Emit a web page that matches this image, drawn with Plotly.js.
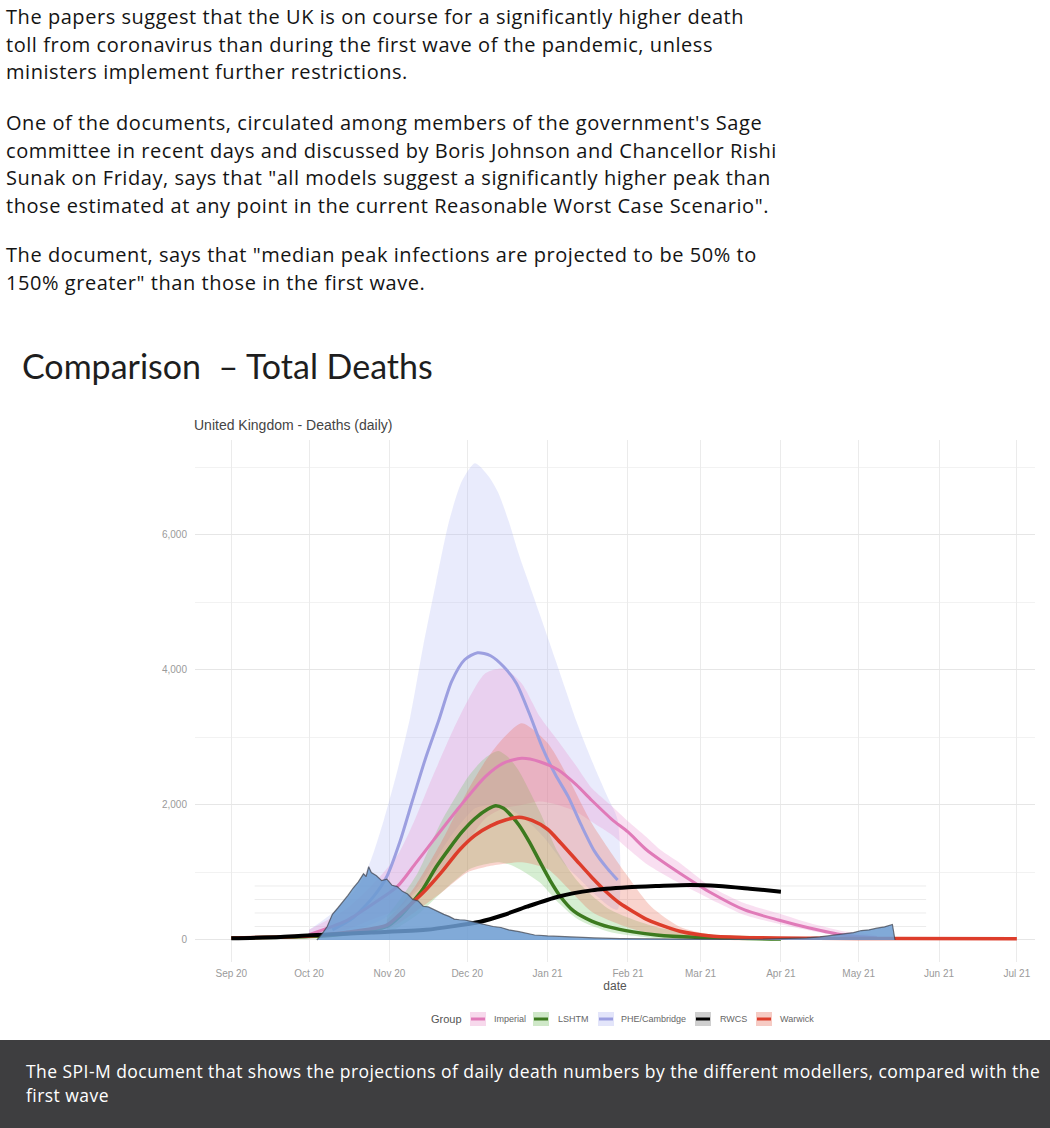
<!DOCTYPE html>
<html>
<head>
<meta charset="utf-8">
<script src="https://cdn.plot.ly/plotly-3.0.1.min.js"></script>
<style>
  html, body { margin:0; padding:0; background:#fff; }
  body { width:1050px; height:1128px; position:relative; overflow:hidden; }
  #text { position:absolute; left:6px; top:3px; font-family:'Open Sans', sans-serif; font-size:20px; line-height:27.5px; color:#141414; white-space:nowrap; letter-spacing:0.55px; }
  #text p { margin:0; }
  #chart { position:absolute; left:0; top:330px; width:1050px; height:710px; }
  #caption { position:absolute; left:0; top:1040px; width:1050px; height:88px; background:#3e3e40; color:#ffffff;
             font-family:'Open Sans', sans-serif; font-size:17.5px; line-height:24px; letter-spacing:0.45px; box-sizing:border-box; padding:19px 0 0 26px; white-space:nowrap; }
</style>
</head>
<body>
<div id="text">
  <p>The papers suggest that the UK is on course for a significantly higher death<br>toll from coronavirus than during the first wave of the pandemic, unless<br>ministers implement further restrictions.</p>
  <p style="margin-top:23.5px">One of the documents, circulated among members of the government's Sage<br>committee in recent days and discussed by Boris Johnson and Chancellor Rishi<br>Sunak on Friday, says that "all models suggest a significantly higher peak than<br>those estimated at any point in the current Reasonable Worst Case Scenario".</p>
  <p style="margin-top:22px">The document, says that "median peak infections are projected to be 50% to<br>150% greater" than those in the first wave.</p>
</div>
<div id="chart"></div>
<div id="caption">The SPI-M document that shows the projections of daily death numbers by the different modellers, compared with the<br>first wave</div>
<script>
// ---------- axis ticks ----------
const monthTicks = ['2020-09-01','2020-10-01','2020-11-01','2020-12-01','2021-01-01','2021-02-01','2021-03-01','2021-04-01','2021-05-01','2021-06-01','2021-07-01'];
const monthLabels = ['Sep 20','Oct 20','Nov 20','Dec 20','Jan 21','Feb 21','Mar 21','Apr 21','May 21','Jun 21','Jul 21'];

// ---------- PHE/Cambridge ----------
const pheDates = ['2020-10-10','2020-10-18','2020-10-26','2020-10-31','2020-11-05','2020-11-10','2020-11-15','2020-11-20','2020-11-25','2020-11-30','2020-12-05','2020-12-10','2020-12-15','2020-12-20','2020-12-25','2020-12-30','2021-01-04','2021-01-09','2021-01-14','2021-01-19','2021-01-24','2021-01-28'];
const pheMedian = [150,330,650,940,1450,2080,2700,3250,3830,4150,4255,4210,4050,3800,3350,2850,2450,2120,1700,1320,1060,888];
const pheBandDates = ['2020-10-01','2020-10-10','2020-10-20','2020-10-25','2020-10-30','2020-11-04','2020-11-09','2020-11-14','2020-11-19','2020-11-24','2020-11-29','2020-12-04','2020-12-09','2020-12-13','2020-12-17','2020-12-21','2020-12-26','2020-12-31','2021-01-04','2021-01-08','2021-01-12','2021-01-16','2021-01-20','2021-01-24','2021-01-28'];
const pheUpper = [150,400,800,1200,1800,2500,3300,4350,5300,6200,6800,7060,6880,6620,6200,5700,5150,4600,4150,3700,3250,2850,2480,2130,1780];
const pheLower = [30,80,160,230,320,450,650,900,1200,1500,1750,1950,2000,2000,1950,1850,1700,1500,1300,1100,950,800,650,520,450];

// ---------- Imperial ----------
const impDates = ['2020-10-01','2020-10-15','2020-10-25','2020-11-04','2020-11-11','2020-11-18','2020-11-28','2020-12-08','2020-12-15','2020-12-22','2020-12-29','2021-01-05','2021-01-12','2021-01-18','2021-01-26','2021-02-01','2021-02-08','2021-02-14','2021-02-21','2021-03-05','2021-03-18','2021-03-31','2021-04-12','2021-04-25','2021-05-08'];
const impMedian = [80,280,520,790,1130,1480,1970,2420,2620,2690,2640,2520,2300,2070,1780,1600,1340,1170,990,700,445,296,178,74,30];
const impUpper = [150,450,800,1250,1800,2450,3307,3950,4020,3800,3310,2950,2580,2250,1974,1760,1530,1320,1140,789,543,395,250,130,60];
const impLower = [40,150,300,450,700,950,1300,1800,1950,2000,2050,2000,1900,1750,1550,1350,1130,990,840,600,370,240,140,50,15];

// ---------- LSHTM ----------
const lshDates = ['2020-09-01','2020-10-01','2020-10-15','2020-10-31','2020-11-05','2020-11-09','2020-11-14','2020-11-19','2020-11-24','2020-11-29','2020-12-04','2020-12-09','2020-12-12','2020-12-15','2020-12-18','2020-12-21','2020-12-25','2020-12-29','2021-01-02','2021-01-06','2021-01-11','2021-01-18','2021-01-25','2021-02-03','2021-02-12','2021-02-27','2021-04-01'];
const lshMedian = [30,50,90,200,350,520,760,1080,1350,1600,1800,1940,1989,1950,1840,1700,1450,1160,880,640,430,280,190,120,74,40,15];
const lshBandDates = ['2020-10-31','2020-11-05','2020-11-12','2020-11-21','2020-12-02','2020-12-08','2020-12-13','2020-12-17','2020-12-21','2020-12-29','2021-01-05','2021-01-13','2021-01-25','2021-02-13','2021-03-05','2021-04-01'];
const lshUpper = [350,600,1000,1750,2450,2700,2800,2700,2500,1900,1300,850,450,180,80,30];
const lshLower = [100,200,380,700,1050,1120,1150,1120,1050,850,560,300,120,25,10,0];

// ---------- Warwick ----------
const warDates = ['2020-09-01','2020-10-01','2020-10-15','2020-10-31','2020-11-05','2020-11-11','2020-11-15','2020-11-21','2020-11-28','2020-12-04','2020-12-10','2020-12-16','2020-12-21','2020-12-26','2021-01-01','2021-01-06','2021-01-12','2021-01-18','2021-01-24','2021-01-29','2021-02-03','2021-02-08','2021-02-13','2021-02-21','2021-03-05','2021-03-20','2021-04-15','2021-05-15','2021-07-01'];
const warMedian = [30,60,110,220,380,592,740,1000,1333,1550,1690,1780,1817,1770,1640,1440,1185,930,700,540,420,310,230,130,60,35,25,22,20];
const warBandDates = ['2020-10-31','2020-11-05','2020-11-11','2020-11-21','2020-12-01','2020-12-08','2020-12-14','2020-12-22','2021-01-01','2021-01-08','2021-01-18','2021-01-31','2021-02-10','2021-02-21','2021-03-05','2021-03-20'];
const warUpper = [300,500,800,1450,2200,2650,2950,3209,2918,2473,1733,992,493,197,80,40];
const warLower = [150,260,420,700,1000,1080,1120,1150,1050,800,420,200,90,40,15,5];

// ---------- RWCS ----------
const rwcsDates = ['2020-09-01','2020-09-20','2020-10-04','2020-10-25','2020-11-15','2020-12-06','2020-12-15','2020-12-24','2021-01-05','2021-01-18','2021-02-01','2021-02-13','2021-02-25','2021-03-08','2021-03-20','2021-04-01'];
const rwcsValues = [25,45,74,110,150,271,370,493,641,735,780,800,815,800,760,716];

// ---------- first wave (overlaid daily deaths) ----------
const waveDates = ['2020-10-04','2020-10-06','2020-10-08','2020-10-10','2020-10-12','2020-10-14','2020-10-16','2020-10-18','2020-10-20','2020-10-22','2020-10-23','2020-10-24','2020-10-25','2020-10-27','2020-10-29','2020-10-31','2020-11-02','2020-11-04','2020-11-06','2020-11-08','2020-11-10','2020-11-12','2020-11-14','2020-11-16','2020-11-18','2020-11-20','2020-11-22','2020-11-24','2020-11-26','2020-11-28','2020-11-30','2020-12-02','2020-12-05','2020-12-08','2020-12-11','2020-12-14','2020-12-17','2020-12-21','2020-12-24','2020-12-27','2021-01-01','2021-01-06','2021-01-12','2021-01-19','2021-01-29','2021-02-08','2021-02-23','2021-03-10','2021-03-25','2021-04-04','2021-04-11','2021-04-16','2021-04-21','2021-04-25','2021-04-29','2021-05-02','2021-05-05','2021-05-08','2021-05-11','2021-05-14','2021-05-15'];
const waveDeaths = [0,90,200,380,470,560,660,770,860,980,940,1086,1000,950,880,900,810,790,720,680,600,580,500,490,450,420,380,350,310,300,296,280,250,222,200,185,150,123,95,74,60,50,40,30,20,15,10,10,12,18,30,45,70,95,110,140,150,175,195,230,0];

// faint gridlines of the overlaid first-wave panel
const overlayGrid = [200,400,600,800,1000];

// ---------- legend ----------
const groups = ['Imperial','LSHTM','PHE/Cambridge','RWCS','Warwick'];
const lineColors = {'Imperial':'#e07ab8','LSHTM':'#3c7a1f','PHE/Cambridge':'#9c9fe0','RWCS':'#000000','Warwick':'#dd3d2b'};
const bandColors = {'Imperial':'rgba(235,140,205,0.28)','LSHTM':'rgba(120,200,105,0.30)','PHE/Cambridge':'rgba(175,182,245,0.28)','Warwick':'rgba(235,100,80,0.28)'};
const swatchFills = {'Imperial':'#f7d9ec','LSHTM':'#cfe8c8','PHE/Cambridge':'#e3e5fa','RWCS':'#cfcfcf','Warwick':'#f6cbc4'};
const legendSwatchLeft = [470, 533, 598, 695, 756];   // page px (layout)
const legendTextLeft = [492, 556, 619, 718, 778];     // page px (layout)

function band(dates, up, lo, g){
  return {x: dates.concat(dates.slice().reverse()), y: up.concat(lo.slice().reverse()),
          type:'scatter', mode:'lines', fill:'toself', fillcolor: bandColors[g],
          line:{width:0, shape:'spline', smoothing:0.7}, showlegend:false, hoverinfo:'skip'};
}
function med(dates, vals, g, w){
  return {x: dates, y: vals, type:'scatter', mode:'lines', name: g,
          line:{color: lineColors[g], width: w, shape:'spline', smoothing:0.7}};
}

const traces = [
  band(pheBandDates, pheUpper, pheLower, 'PHE/Cambridge'),
  band(impDates, impUpper, impLower, 'Imperial'),
  band(lshBandDates, lshUpper, lshLower, 'LSHTM'),
  band(warBandDates, warUpper, warLower, 'Warwick'),
  med(pheDates, pheMedian, 'PHE/Cambridge', 3),
  med(impDates, impMedian, 'Imperial', 3),
  med(lshDates, lshMedian, 'LSHTM', 3.5),
  med(warDates, warMedian, 'Warwick', 3.5),
  med(rwcsDates, rwcsValues, 'RWCS', 4),
  {x: waveDates, y: waveDeaths, type:'scatter', mode:'lines', fill:'tozeroy',
   fillcolor:'rgba(108,156,210,0.86)', line:{color:'rgba(60,62,72,0.7)', width:1.2},
   name:'First wave'}
];

const chartTop = 330, plotTop = 110, plotBottom = 78, H = 710, plotLeft = 195, plotW = 840;
const paperH = H - plotTop - plotBottom;
const bottomPx = H - plotBottom;
const toPX = px => (px - plotLeft) / plotW;                  // page x -> paper x
const toPY = py => (bottomPx - (py - chartTop)) / paperH;    // page y -> paper y
const legendY = 1019;

const shapes = overlayGrid.map(v => ({type:'line', xref:'x', yref:'y', x0:'2020-09-10', x1:'2021-05-27', y0:v, y1:v,
                                      line:{color:'#ececec', width:1}, layer:'below'}));
const annotations = [
  {text:'United Kingdom - Deaths (daily)', xref:'paper', yref:'paper', x:toPX(192), xanchor:'left',
   y:toPY(425), yanchor:'middle', showarrow:false,
   font:{family:'Liberation Sans, Arial, sans-serif', size:14, color:'#444'}},
  {text:'Group', xref:'paper', yref:'paper', x:toPX(464), xanchor:'right',
   y:toPY(legendY), yanchor:'middle', showarrow:false,
   font:{family:'Liberation Sans, Arial, sans-serif', size:11, color:'#555'}}
];
groups.forEach((g, i) => {
  const sx = legendSwatchLeft[i];
  shapes.push({type:'rect', xref:'paper', yref:'paper', x0:toPX(sx), x1:toPX(sx+16), y0:toPY(legendY+7), y1:toPY(legendY-7),
               fillcolor:swatchFills[g], line:{width:0}, layer:'above'});
  shapes.push({type:'line', xref:'paper', yref:'paper', x0:toPX(sx+1), x1:toPX(sx+15), y0:toPY(legendY), y1:toPY(legendY),
               line:{color:lineColors[g], width:3}, layer:'above'});
  annotations.push({text:g, xref:'paper', yref:'paper', x:toPX(legendTextLeft[i]), xanchor:'left',
                    y:toPY(legendY), yanchor:'middle', showarrow:false,
                    font:{family:'Liberation Sans, Arial, sans-serif', size:9, color:'#666'}});
});

const layout = {
  width:1050, height:H, showlegend:false,
  margin:{l:plotLeft, r:15, t:plotTop, b:plotBottom, autoexpand:false},
  paper_bgcolor:'#ffffff', plot_bgcolor:'#ffffff',
  title:{text:'Comparison  \u2013 Total Deaths', xref:'container', x:22/1050, xanchor:'left',
         yref:'container', y:1-37/H, yanchor:'middle', automargin:false,
         font:{family:'Lato, sans-serif', size:34, color:'#1e1e1e'}},
  xaxis:{type:'date', range:['2020-08-18','2021-07-08'], tickmode:'array', tickvals:monthTicks, ticktext:monthLabels,
         automargin:false, showgrid:true, gridcolor:'#ebebeb', gridwidth:1, zeroline:false, showline:false, ticks:'', ticklabelstandoff:4,
         tickfont:{family:'Liberation Sans, Arial, sans-serif', size:10, color:'#9a9a9a'},
         title:{text:'date', standoff:1, font:{family:'Liberation Sans, Arial, sans-serif', size:12, color:'#555'}}},
  yaxis:{range:[-326, 7405], tick0:0, dtick:2000, tickformat:',d', showgrid:true, gridcolor:'#e6e6e6', gridwidth:1,
         automargin:false, zeroline:false, showline:false, ticks:'', ticklabelstandoff:7,
         tickfont:{family:'Liberation Sans, Arial, sans-serif', size:10, color:'#9a9a9a'},
         minor:{dtick:1000, showgrid:true, gridcolor:'#f2f2f2', gridwidth:1}},
  annotations: annotations,
  shapes: shapes
};

Plotly.newPlot('chart', traces, layout, {displayModeBar:false, staticPlot:true});
</script>
</body>
</html>
